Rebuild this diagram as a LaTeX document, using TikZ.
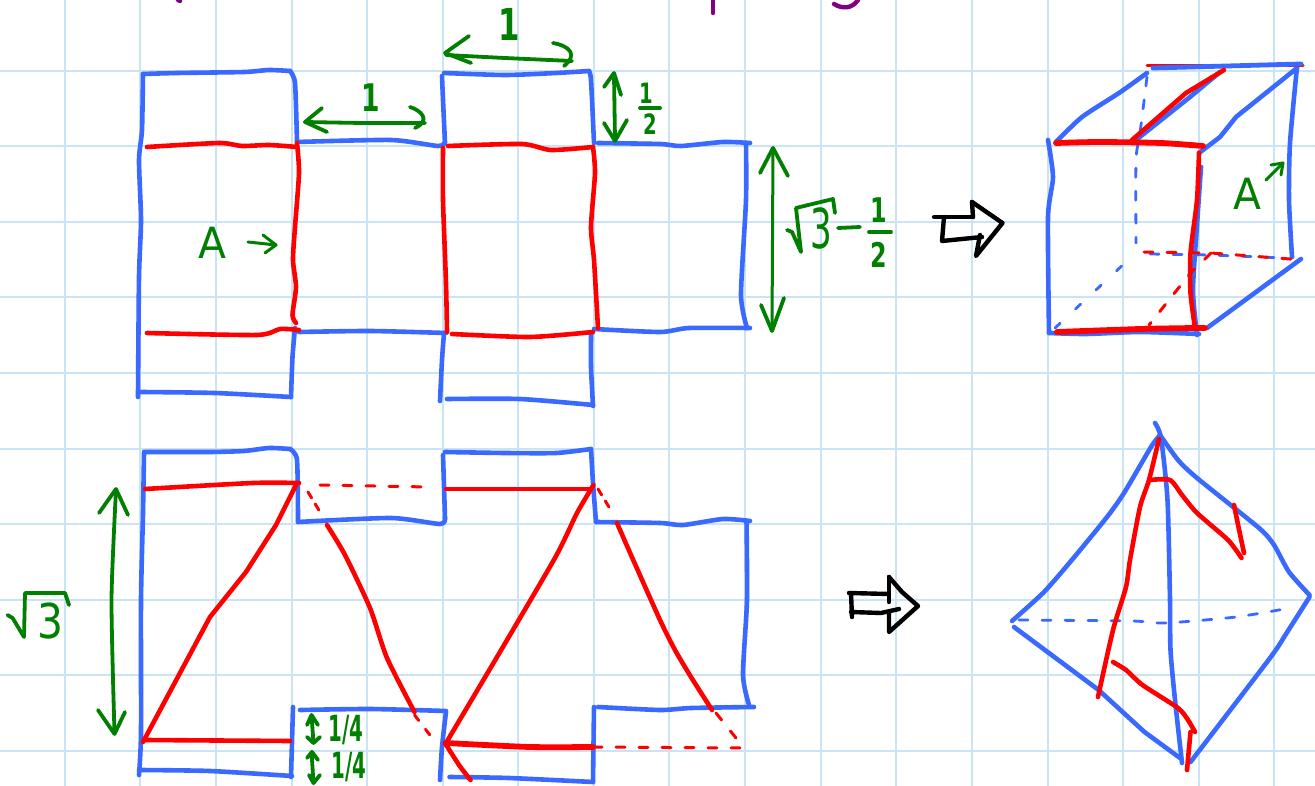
\documentclass[tikz,border=0pt]{standalone}
\usepackage{fontspec}
\setmainfont{DejaVu Sans}
\definecolor{gridc}{HTML}{C9E4F4}
\definecolor{pen}{HTML}{3A69FF}
\definecolor{cut}{HTML}{FF0000}
\definecolor{dim}{HTML}{007F00}
\definecolor{head}{HTML}{800080}
\newcommand{\St}[2]{\draw[#1] plot[smooth,tension=.4] coordinates {#2};}
\newcommand{\Nar}[2]{\scalebox{#1}[1]{#2}}
\tikzset{
 bl/.style={draw=pen,line width=4.6pt,line cap=round,line join=round},
 bd/.style={draw=pen,line width=2.8pt,line cap=round,dash pattern=on 9pt off 14pt},
 rd/.style={draw=cut,line width=4.6pt,line cap=round,line join=round},
 rt/.style={draw=cut,line width=5.8pt,line cap=round,line join=round},
 rs/.style={draw=cut,line width=3pt,line cap=round,dash pattern=on 9pt off 14pt},
 gr/.style={draw=dim,line width=3.8pt,line cap=round,line join=round},
 gt/.style={draw=dim,line width=3pt,line cap=round,line join=round},
 bk/.style={draw=black,line width=4.4pt,line cap=round,line join=round},
 pu/.style={draw=head,line width=4.4pt,line cap=round,line join=round},
 lab/.style={text=dim,inner sep=0pt,font=\fontsize{#1}{#1}\selectfont},
 labb/.style={text=dim,inner sep=0pt,font=\bfseries\fontsize{#1}{#1}\selectfont}
}
\begin{document}
\begin{tikzpicture}[x=1pt,y=-1pt]
\useasboundingbox (0,0) rectangle (1315,786);
\fill[white] (0,0) rectangle (1315,786);
\foreach \g in {65,140,216,292,367,443,518,594,669,745,821,896,972,1048,1123,1199,1274}
  \draw[gridc,line width=2pt] (\g,0) -- (\g,786);
\foreach \g in {71,146,222,297,373,449,524,600,675,751}
  \draw[gridc,line width=2pt] (0,\g) -- (1315,\g);
% purple remains of cut-off heading
\draw[pu] (178,0) -- (180,1);
\draw[pu] (713,0) -- (713,13);
\draw[pu] (834,4) .. controls (842,9) and (852,9) .. (858,0);
% ---------- upper net, blue
\St{bl}{(143,74)(142,130)(139,160)(141,220)(139,277)(138,397)}
\St{bl}{(143,74)(177,73)(244,72)(269,70)(290,71)}
\St{bl}{(290,71)(295,83)(297,142)}
\St{bl}{(297,142)(391,140)(438,146)(445,142)}
\St{bl}{(299,332)(370,331)(446,333)}
\St{bl}{(295,328)(292.5,357)(291,397)}
\St{bl}{(141,392)(215,393)(291,397)}
\St{bl}{(442,76)(443,100)(445,143)}
\St{bl}{(444,73)(505,75)(556,73)(589,71)}
\St{bl}{(589,71)(591,80)(594,143)}
\St{bl}{(444,333)(442,360)(440,401)}
\St{bl}{(591,333)(591,367)(593,406)}
\St{bl}{(447,399)(520,399)(593,405)}
\St{bl}{(598,143)(660,144)(681,146)(723,142)(750,143)}
\St{bl}{(746,143)(746,200)(741,295)(747,328)}
\St{bl}{(594,329)(660,332)(689,328)(750,328)}
% upper net, red
\St{rd}{(147,147)(219,143)(242,146)(269,145)(297,147)}
\St{rd}{(297,143)(299,173)(295,227)(293,260)(296,287)(292.5,315)(296,323)}
\St{rd}{(147,333)(257,335)(280,329)(299,330)}
\St{rd}{(443,148)(443,200)(446,283)(447,332)}
\St{rd}{(448,146)(522,144)(551,150)(593,147)}
\St{rd}{(593,147)(595,173)(591,227)(594,260)(598,328)}
\St{rd}{(452,334)(530,337)(593,332)}
% upper net, dimensions
\St{gr}{(446,55)(505,58)(572,61)}
\draw[gr] (469,36) -- (445,53) -- (471,63);
\draw[gr] (553,43) .. controls (570,46) and (578,55) .. (564,66);
\St{gr}{(305,122)(365,123)(425,123)}
\draw[gr] (322,108) -- (305,122) -- (327,132);
\draw[gr] (410,107) .. controls (420,110) and (432,120) .. (415,128);
\draw[gr] (614,75) -- (615,140);
\draw[gr] (604,87) -- (614,73) -- (621,95);
\draw[gr] (604,123) -- (615,141) -- (627,120);
\draw[gr] (640,108) -- (660,108);
\draw[gt] (773,148) -- (772,330);
\draw[gr] (760,173) -- (773,148) -- (788,176);
\draw[gr] (761,305) -- (772,331) -- (784,298);
\draw[gr] (787,230) -- (792,232) -- (801,252) -- (796,208) -- (833,199) -- (835,213);
\draw[gr] (838,228) -- (860,227);
\draw[gr] (869,232) -- (891,232);
\draw[gt] (248,242) -- (276,245);
\draw[gt] (263,235) -- (276,245) -- (265,253);
\node[labb=44] (oneA) at (509,24) {\Nar{.7}{1}};
\node[labb=38] (oneB) at (371,98) {\Nar{.7}{1}};
\node[labb=28] (halfN) at (646,93) {\Nar{.7}{1}};
\node[labb=28] (halfD) at (650,124) {\Nar{.7}{2}};
\node[lab=55] (threeA) at (821,228) {\Nar{.62}{3}};
\node[labb=34] (fracN) at (879,210) {\Nar{.7}{1}};
\node[labb=34] (fracD) at (879,255) {\Nar{.7}{2}};
\node[lab=43] (aA) at (212,243) {\Nar{.95}{A}};
% black arrows
\draw[bk] (934,217) -- (973,217);
\draw[bk] (944,217) -- (942,241) -- (982,237);
\draw[bk] (972,202) -- (973,217);
\draw[bk] (972,202) -- (1002.5,223) -- (976,256) -- (980,235);
\draw[bk] (849,593) -- (889,594);
\draw[bk] (851,593) -- (852,617);
\draw[bk] (851,612) -- (881,613) -- (899,609);
\draw[bk] (889,577) -- (889,602);
\draw[bk] (889,577) -- (902,592) -- (918,606) -- (889,632) -- (889,612);
% ---------- cube
\St{bl}{(1048,140)(1053,177)(1048,217)(1049,333)}
\St{bl}{(1049,333)(1086,334)(1140,332)(1199,334)}
\St{bl}{(1056,142)(1082,117)(1119,93)(1147,73)}
\draw[bl] (1136,140) -- (1190,97) -- (1220,72);
\draw[bl] (1199,153) -- (1220,137) -- (1236,117) -- (1297,68);
\St{bl}{(1297,67)(1290,143)(1289,200)(1292,257)}
\St{bl}{(1201,167)(1197,225)(1193,290)(1197,335)}
\draw[bl] (1207,328) -- (1301,259);
\draw[draw=cut,line width=3pt,line cap=round] (1147,66) -- (1303,66);
\draw[bl,line width=4.8pt] (1153,68) -- (1301,64);
\St{bd}{(1147,77)(1140,133)(1136,160)(1136,243)}
\draw[bd,dash pattern=on 7pt off 21pt] (1055,328) -- (1126,262);
\draw[bd] (1150,254) -- (1211,255) -- (1285,258);
\St{rt}{(1056,143)(1099,142)(1161,143)(1203,146)}
\draw[rd] (1132,140) -- (1186,93) -- (1224,70);
\St{rd}{(1199,153)(1197,200)(1190.5,253)(1190.5,293)(1195,328)}
\St{rt}{(1057,332)(1140,329)(1195,328)(1205,328)}
\draw[rs] (1144,252) -- (1211,253) -- (1303,260);
\draw[rs] (1211,253) -- (1190.5,273) -- (1149,325);
\draw[gt] (1266,180) -- (1283,163);
\draw[gt] (1271,165) -- (1283,163) -- (1281,175);
\node[lab=43] (aB) at (1247,194) {\Nar{.95}{A}};
% ---------- lower net, blue
\St{bl}{(144,453)(143,513)(141,600)(141,733)(139,775)}
\St{bl}{(144,452)(210,452)(244,451)(269,448)(290,449)}
\St{bl}{(290,449)(297,460)(298,522)}
\St{bl}{(298,522)(391,518)(440,524)(445,518)}
\draw[bl] (445,518) -- (443,455);
\St{bl}{(445,452)(505,453)(556,453)(591,449)}
\St{bl}{(591,449)(593,483)(596,522)}
\St{bl}{(596,522)(660,523)(683,525)(723,519)(750,521)}
\St{bl}{(746.5,521)(747,600)(743,675)(749,705)}
\St{bl}{(598,707)(660,710)(691,708)(754,707)}
\St{bl}{(594,707)(593,782)}
\St{bl}{(139,770)(210,771)(292,776)}
\draw[bl] (293,707) -- (291,777);
\St{bl}{(300,710)(370,709)(446,711)}
\St{bl}{(446,712)(442,747)(440,780)}
\St{bl}{(449.5,777)(509,778)(593,782)}
% lower net, red
\St{rd}{(145,489)(252.5,483)(299,483)}
\draw[rd] (297,483) -- (276,525) -- (246,572) -- (210,617) -- (143,742);
\draw[rd] (145,740) -- (290,741);
\draw[rs] (320,485) -- (429,487);
\draw[rs,dash pattern=on 7pt off 7pt] (308,492) -- (320,512);
\St{rd}{(327,525)(345,555)(370,608)(387,658)(414.5,712)}
\draw[rs,dash pattern=on 7pt off 11pt] (414.5,715) -- (436,743);
\draw[rd] (446,489) -- (589,489);
\St{rd}{(593.5,485)(577,513)(555.5,557)(497,657)(446,743)}
\St{rd}{(445,743)(459,765)(470.5,780)}
\St{rt}{(446,743)(530,747)(593,747)}
\draw[rs] (593,747) -- (744,748);
\draw[rs,dash pattern=on 7pt off 7pt] (598,489) -- (612,512);
\St{rd}{(617,523)(631,555)(660,620)(675,650)(691,677)(712,710)}
\draw[rs] (716,713) -- (744,748);
% lower net, dimensions
\St{gr}{(116,490)(111.5,600)(114.5,733)}
\draw[gr] (99,513) -- (116,489) -- (128,515);
\draw[gr] (98,710) -- (114.5,734) -- (125,712);
\draw[gr] (7.5,615) -- (12.6,618) -- (24,637) -- (25,593) -- (65,593) -- (69,605);
\draw[gr] (311.5,715) -- (313.5,743);
\draw[gr] (307,725) -- (311.5,715) -- (318,725);
\draw[gr] (307,737) -- (313.5,743) -- (320,737);
\draw[gr] (311.5,752) -- (313.5,783);
\draw[gr] (307,758) -- (312,752) -- (318,760);
\draw[gr] (309,775) -- (313.5,783) -- (320,775);
\node[lab=48] (threeB) at (50,621) {\Nar{.85}{3}};
\node[labb=36] (quarterA) at (346,730) {\Nar{.55}{1/4}};
\node[labb=36] (quarterB) at (349,767) {\Nar{.55}{1/4}};
% ---------- octahedron
\St{bl}{(1012,621)(1044,592)(1073.5,558)(1107,517)(1124,493)(1151,447)(1160,435)}
\St{bl}{(1160,435)(1178,460)(1197,478)(1259,528)(1274,545)(1289,572)(1309.5,595)}
\St{bl}{(1155,423)(1161,438)(1167.5,500)(1170,600)(1170.5,650)(1175,700)(1182,763)}
\draw[bl] (1014,627) -- (1098.6,690) -- (1144.5,732) -- (1180,758);
\St{bl}{(1309.5,597)(1286.6,633)(1270,658)(1190.5,762)}
\St{bd}{(1019,620)(1132,621)(1165,623)(1236,617)(1290,608)}
\St{rd}{(1159,439)(1149,480)(1140,507)(1130,560)(1126,587)(1113,630)(1098,697)}
\St{rd}{(1149,480)(1170,480)(1182,495)(1197,513)(1228,540)(1241.5,558)}
\St{rd}{(1234,505)(1238.5,527)(1244,553)}
\St{rd}{(1113,662)(1126,670)(1142.5,685)(1178,708)(1188,720)(1195,732)}
\St{rd}{(1190.5,732)(1187,770)}
\end{tikzpicture}
\end{document}
